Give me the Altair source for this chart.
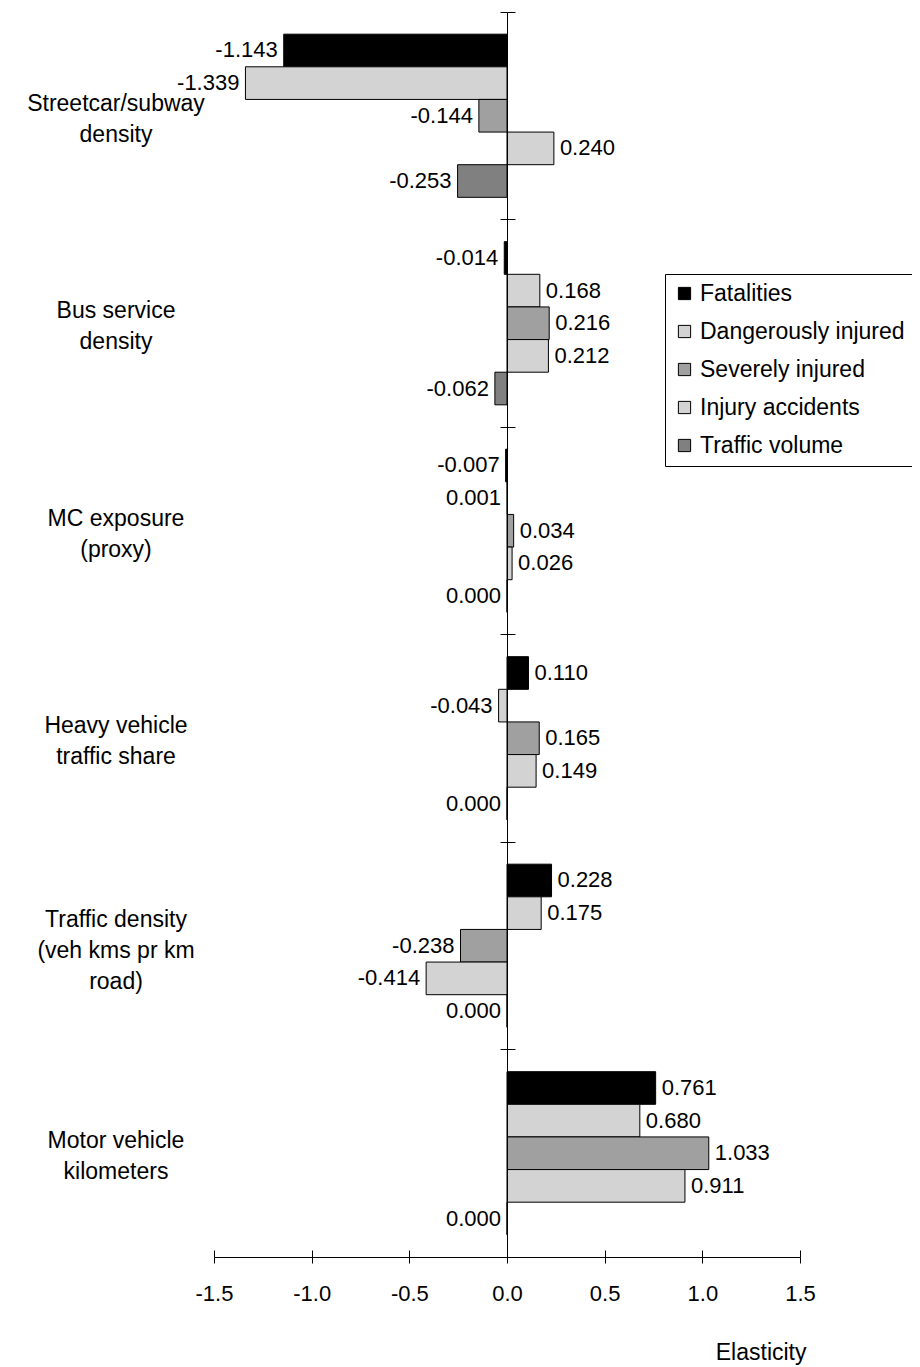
import altair as alt
import pandas as pd

categories = [
    "Streetcar/subway density",
    "Bus service density",
    "MC exposure (proxy)",
    "Heavy vehicle traffic share",
    "Traffic density (veh kms pr km road)",
    "Motor vehicle kilometers",
]
category_labels = [
    "Streetcar/subway\ndensity",
    "Bus service\ndensity",
    "MC exposure\n(proxy)",
    "Heavy vehicle\ntraffic share",
    "Traffic density\n(veh kms pr km\nroad)",
    "Motor vehicle\nkilometers",
]
series = ["Fatalities", "Dangerously injured", "Severely injured",
          "Injury accidents", "Traffic volume"]
colors = ["#000000", "#d3d3d3", "#a0a0a0", "#d3d3d3", "#808080"]

streetcar = [-1.143, -1.339, -0.144, 0.240, -0.253]
bus = [-0.014, 0.168, 0.216, 0.212, -0.062]
mc = [-0.007, 0.001, 0.034, 0.026, 0.000]
heavy = [0.110, -0.043, 0.165, 0.149, 0.000]
density = [0.228, 0.175, -0.238, -0.414, 0.000]
motor = [0.761, 0.680, 1.033, 0.911, 0.000]
values = [streetcar, bus, mc, heavy, density, motor]

x_ticks = [-1.5, -1.0, -0.5, 0.0, 0.5, 1.0, 1.5]

rows = []
for cat, vals in zip(categories, values):
    for s, v in zip(series, vals):
        rows.append({"category": cat, "series": s, "value": v,
                     "label": f"{v:.3f}"})
df = pd.DataFrame(rows)
cat_df = pd.DataFrame({
    "category": categories,
    "text": category_labels,
    "nlines": [t.count("\n") + 1 for t in category_labels],
})

FONT = "Liberation Sans"
FS_VAL = 22
FS_CAT = 23
FS_LEG = 23
FS_AX = 22

xscale = alt.Scale(domain=[-1.5, 1.5], nice=False, zero=False)
yscale = alt.Scale(paddingInner=0, paddingOuter=0)
yoff_scale = alt.Scale(paddingInner=0, paddingOuter=0.68)

x_main_axis = alt.Axis(
    orient="bottom",
    values=x_ticks, grid=False, tickSize=6, domainColor="black",
    tickColor="black", domainWidth=1, tickWidth=1, labelFlush=False,
    labelExpr="replace(format(datum.value, '.1f'), '\u2212', '-')",
    labelFont=FONT, labelFontSize=FS_AX, labelColor="black", labelPadding=20,
    title="Elasticity", titleFont=FONT, titleFontSize=FS_CAT,
    titleFontWeight="normal", titleColor="black", titleX=592, titleY=95,
    titleAlign="right", titleBaseline="middle", titleAnchor="end",
)
x_inner_axis = alt.Axis(
    orient="bottom",
    values=x_ticks, grid=False, tickSize=7, offset=-7, domain=False,
    labels=False, title=None, tickColor="black", tickWidth=1,
)
y_left_axis = alt.Axis(
    orient="left", offset=-293, labels=False, title=None, grid=False,
    tickSize=7, bandPosition=0, domainColor="black", tickColor="black",
    domainWidth=1, tickWidth=1, zindex=1,
)
y_right_axis = alt.Axis(
    orient="right", offset=-293, labels=False, title=None, grid=False,
    tickSize=8, bandPosition=0, domain=False, tickColor="black",
    tickWidth=1, zindex=1,
)

base = alt.Chart(df)

bars = base.mark_bar(stroke="black", strokeWidth=1).encode(
    x=alt.X("value:Q", scale=xscale, axis=x_main_axis),
    y=alt.Y("category:N", sort=categories, scale=yscale, axis=y_left_axis),
    yOffset=alt.YOffset("series:N", sort=series, scale=yoff_scale),
    color=alt.Color(
        "series:N", sort=series,
        scale=alt.Scale(domain=series, range=colors),
        legend=alt.Legend(
            title=None, orient="none", legendX=451, legendY=262,
            strokeColor="black", fillColor="white", padding=8,
            symbolType="square", symbolSize=150, symbolStrokeColor="black",
            symbolStrokeWidth=1, labelFont=FONT, labelFontSize=FS_LEG,
            labelColor="black", labelOffset=4, rowPadding=14,
            labelLimit=400,
        ),
    ),
)

pos_labels = base.transform_filter("datum.value >= 0.01").mark_text(
    align="left", baseline="middle", dx=6, font=FONT, fontSize=FS_VAL,
    color="black",
).encode(
    x=alt.X("value:Q", scale=xscale, axis=x_inner_axis),
    y=alt.Y("category:N", sort=categories, scale=yscale, axis=y_right_axis),
    yOffset=alt.YOffset("series:N", sort=series, scale=yoff_scale),
    text="label:N",
)

neg_labels = base.transform_filter("datum.value < 0.01").transform_calculate(
    xpos="min(datum.value, 0)"
).mark_text(
    align="right", baseline="middle", dx=-6, font=FONT, fontSize=FS_VAL,
    color="black",
).encode(
    x=alt.X("xpos:Q", scale=xscale, axis=None),
    y=alt.Y("category:N", sort=categories, scale=yscale, axis=None),
    yOffset=alt.YOffset("series:N", sort=series, scale=yoff_scale),
    text="label:N",
)


def cat_layer(n, dy):
    return alt.Chart(cat_df).transform_filter(f"datum.nlines == {n}").mark_text(
        align="center", baseline="middle", font=FONT, fontSize=FS_CAT,
        color="black", lineBreak="\n", lineHeight=31, dy=dy,
    ).encode(
        x=alt.value(-98),
        y=alt.Y("category:N", sort=categories, scale=yscale, axis=None),
        text="text:N",
    )


cat_text2 = cat_layer(2, -12)
cat_text3 = cat_layer(3, -26)

chart = alt.layer(bars, pos_labels, neg_labels, cat_text2, cat_text3).resolve_axis(
    x="independent", y="independent"
).properties(
    width=586, height=1245,
    autosize=alt.AutoSizeParams(type="none"),
    padding={"left": 206, "top": 4, "right": 112, "bottom": 108},
).configure(font=FONT).configure_view(stroke="transparent", strokeWidth=0)

chart.save("out.html", embed_options={"renderer": "svg", "actions": False})
